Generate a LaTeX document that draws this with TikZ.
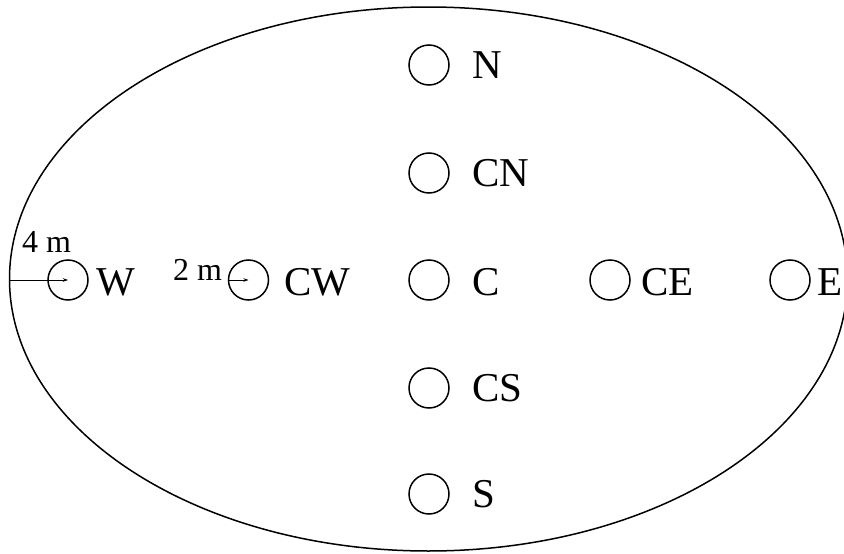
\documentclass[tikz,border=0pt]{standalone}
\usepackage{fontspec}
\setmainfont{Liberation Serif}
\usetikzlibrary{arrows.meta}
\begin{document}
\begin{tikzpicture}[x=1pt,y=-1pt,
  ring/.style={draw,circle,minimum size=40pt,inner sep=0pt,line width=1.5pt},
  lab/.style={anchor=base west,inner sep=0pt,font=\fontsize{41}{41}\selectfont},
  dim/.style={anchor=base west,inner sep=0pt,font=\fontsize{32}{32}\selectfont},
  arr/.style={line width=0.8pt,-{Stealth[length=5pt,width=3.5pt]}}]
\useasboundingbox (0,0) rectangle (844,554);
\draw[line width=1.5pt] (428.5,279) ellipse [x radius=419, y radius=272];
% vertical column
\node[ring] (N)  at (429,65)  {};
\node[ring] (CN) at (429,173) {};
\node[ring] (C)  at (429,280) {};
\node[ring] (CS) at (429,388) {};
\node[ring] (S)  at (429,494) {};
% horizontal row
\node[ring] (W)  at (68,280)  {};
\node[ring] (CW) at (248.5,280) {};
\node[ring] (CE) at (610,280) {};
\node[ring] (E)  at (790,280) {};
% labels
\node[lab] (Nl)  at (472,78)  {N};
\node[lab] (CNl) at (472,186) {CN};
\node[lab] (Cl)  at (472,295) {C};
\node[lab] (CSl) at (472,401) {CS};
\node[lab] (Sl)  at (472,507) {S};
\node[lab] (Wl)  at (96,295)  {W};
\node[lab] (CWl) at (284,295) {CW};
\node[lab] (CEl) at (641,295) {CE};
\node[lab] (El)  at (817,295) {E};
% dimensions
\coordinate (edge) at (9.5,280);
\draw[arr] (edge) -- (W.center);
\draw[arr] (CW.west) -- (CW.center);
\node[dim] (d4) at (22,252) {4~m};
\node[dim] (d2) at (173,280) {2~m};
\end{tikzpicture}
\end{document}
